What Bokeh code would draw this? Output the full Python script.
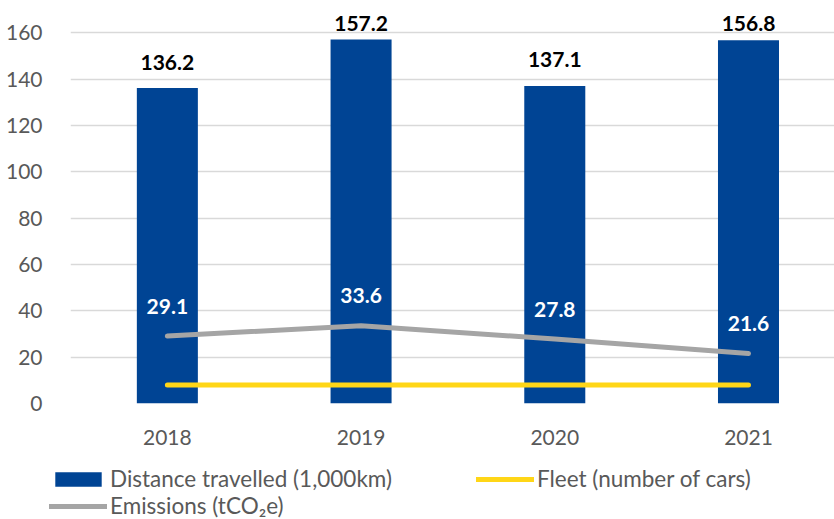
from bokeh.plotting import figure
from bokeh.layouts import column, row
from bokeh.models import ColumnDataSource, FixedTicker, Legend, LegendItem, Range1d
from bokeh.core.properties import value
from bokeh.embed import file_html
from bokeh.resources import INLINE

years = ["2018", "2019", "2020", "2021"]
distance = [136.2, 157.2, 137.1, 156.8]
emissions = [29.1, 33.6, 27.8, 21.6]
fleet = [8, 8, 8, 8]
y_ticks = [0, 20, 40, 60, 80, 100, 120, 140, 160]

FONT = "Lato"
BLUE = "#004494"
GREY = "#A5A5A5"
YELLOW = "#FFD617"
TXT = "#595959"

Y_END = 174.0
FRAME_H = 403
PX_PER_UNIT = FRAME_H / Y_END
# Excel-like label placement: above the bar, but kept inside the plot area
label_gap = 26 / PX_PER_UNIT
label_cap = Y_END - 23 / PX_PER_UNIT

xs = list(range(len(years)))
src = ColumnDataSource(dict(
    x=xs, distance=distance, emissions=emissions, fleet=fleet,
    dlab=[f"{v:.1f}" for v in distance],
    dlab_y=[min(v + label_gap, label_cap) for v in distance],
    elab=[f"{v:.1f}" for v in emissions],
))

p = figure(width=834, height=453, output_backend="svg", toolbar_location=None,
           x_range=Range1d(-0.5, 3.444), y_range=Range1d(0, Y_END),
           min_border_left=70, min_border_right=0, min_border_top=0,
           min_border_bottom=50)
p.outline_line_color = None
p.background_fill_color = "white"
p.border_fill_color = "white"

p.xgrid.grid_line_color = None
p.ygrid.grid_line_color = "#D9D9D9"
p.ygrid.grid_line_width = 1.5
p.yaxis.ticker = FixedTicker(ticks=y_ticks)
p.xaxis.ticker = FixedTicker(ticks=xs)
p.xaxis.major_label_overrides = {i: y for i, y in zip(xs, years)}
for ax in (p.xaxis, p.yaxis):
    ax.axis_line_color = None
    ax.major_tick_line_color = None
    ax.minor_tick_line_color = None
    ax.major_label_text_font = FONT
    ax.major_label_text_font_size = "21px"
    ax.major_label_text_color = TXT
p.yaxis.major_label_standoff = 22
p.xaxis.major_label_standoff = 20

p.vbar(x="x", top="distance", width=0.315, source=src, fill_color=BLUE, line_color=None)
p.line(x="x", y="fleet", source=src, line_color=YELLOW, line_width=5, line_cap="round")
p.line(x="x", y="emissions", source=src, line_color=GREY, line_width=5, line_cap="round")

p.text(x="x", y="dlab_y", text="dlab", source=src, text_font=value(FONT),
       text_font_style="bold", text_font_size="21px", text_color="#000000",
       text_align="center", text_baseline="middle")
p.text(x="x", y="emissions", text="elab", source=src, text_font=value(FONT),
       text_font_style="bold", text_font_size="21px", text_color="white",
       text_align="center", text_baseline="middle", y_offset=-30)

# legend strip below the chart
lg = figure(width=834, height=66, output_backend="svg", toolbar_location=None,
            x_range=Range1d(0, 1), y_range=Range1d(0, 1),
            x_axis_location=None, y_axis_location=None,
            min_border=0, min_border_left=0, min_border_right=0,
            min_border_top=0, min_border_bottom=0)
lg.outline_line_color = None
lg.grid.visible = False
# legend-only renderers, their points lie outside the visible range
dummy = ColumnDataSource(dict(x=[-10, -9], y=[-10, -10]))
r_bar = lg.vbar(x="x", top="y", width=0.1, source=dummy, fill_color=BLUE, line_color=None)
r_em = lg.line(x="x", y="y", source=dummy, line_color=GREY, line_width=5, line_cap="round")
r_fl = lg.line(x="x", y="y", source=dummy, line_color=YELLOW, line_width=5, line_cap="round")

common = dict(glyph_width=58, glyph_height=18, label_height=22, label_standoff=3,
              padding=0, margin=0, label_text_font=FONT, label_text_font_size="22.5px",
              label_text_color=TXT, background_fill_alpha=0, border_line_alpha=0)
leg_a = Legend(items=[
    LegendItem(label="Distance travelled (1,000km)", renderers=[r_bar]),
    LegendItem(label="Emissions (tCO\u2082e)", renderers=[r_em]),
], location=(49, 0), orientation="vertical", spacing=0, **common)
leg_b = Legend(items=[
    LegendItem(label="Fleet (number of cars)", renderers=[r_fl]),
], location=(476, 27), orientation="vertical", spacing=0, **common)
lg.add_layout(leg_a, "center")
lg.add_layout(leg_b, "center")

open("out.html", "w").write(file_html(column(p, row(lg), spacing=0), INLINE))
